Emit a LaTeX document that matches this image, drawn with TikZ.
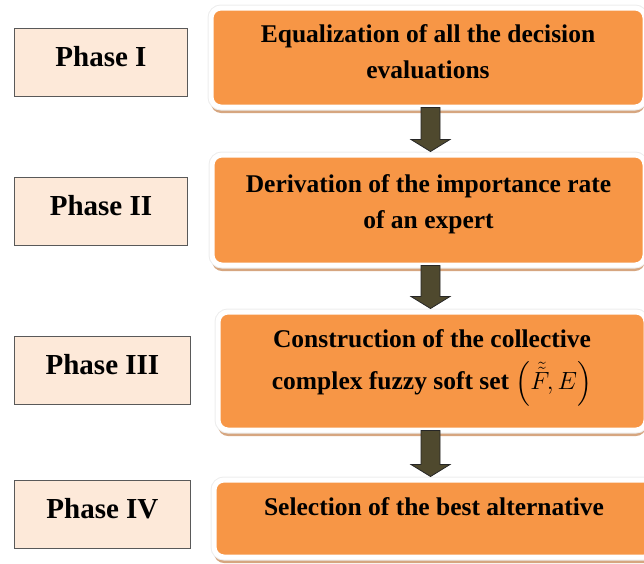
\documentclass[tikz,border=0pt]{standalone}
\usepackage{amsmath}
\usepackage{fontspec}
\setmainfont{Liberation Serif}
\usetikzlibrary{shadows, calc}
\definecolor{stepcolor}{RGB}{247,150,70}
\definecolor{phasecolor}{RGB}{253,233,217}
\definecolor{arrowcolor}{RGB}{79,73,46}
\definecolor{shadowcolor}{RGB}{214,166,128}

\begin{document}
\begin{tikzpicture}[
    x=1pt, y=-1pt,
    phase/.style={rectangle, draw=black!65, line width=0.9pt, fill=phasecolor, minimum width=173pt, minimum height=68pt, text depth=13pt, anchor=north west, font=\fontsize{29}{34}\selectfont\bfseries},
    stepbox/.style={rectangle, rounded corners=10pt, fill=stepcolor, draw=white, line width=5pt, anchor=north west, align=center, font=\fontsize{25.5}{36}\selectfont\bfseries, drop shadow={shadow xshift=0pt, shadow yshift=-6pt, fill=shadowcolor, opacity=1}, preaction={draw=black!7, line width=7pt}},
    flowarrow/.style={fill=arrowcolor, draw=black!85, line width=0.8pt}
]
    \useasboundingbox (0,0) rectangle (644,563);

    % Phases
    \node[phase] (phaseI) at (14,28) {Phase I};
    \node[phase] (phaseII) at (14,177) {Phase II};
    \node[phase, minimum width=176pt] (phaseIII) at (14,336) {Phase III};
    \node[phase, minimum width=176pt] (phaseIV) at (14,480) {Phase IV};

    % Steps
    \node[stepbox, minimum width=434pt, minimum height=99pt, text depth=11pt] (stepI) at (208.5,5.5) {Equalization of all the decision\\evaluations};
    \node[stepbox, minimum width=433pt, minimum height=110pt, text depth=17pt] (stepII) at (209.5,152.5) {Derivation of the importance rate\\of an expert};
    \node[stepbox, minimum width=428pt, minimum height=118pt, text depth=22pt] (stepIII) at (215.5,309.5) {Construction of the collective\\[6pt]complex fuzzy soft set $\left(\tilde{\tilde{F}},E\right)$};
    \node[stepbox, minimum width=440pt, minimum height=77pt, text depth=24pt] (stepIV) at (211.5,477.5) {Selection of the best alternative};

    % Block arrows
    \coordinate (axis) at (430.5,0);
    \foreach \a/\b in {stepI/stepII, stepII/stepIII, stepIII/stepIV}
        \draw[flowarrow] let \p1=(\a.south -| axis), \p2=(\b.north -| axis) in
            (\x1-9.5pt,\y1+2pt) -- (\x1-9.5pt,\y2+13pt) -- (\x1-19.5pt,\y2+13pt) -- (\x1,\y2+1pt)
            -- (\x1+19.5pt,\y2+13pt) -- (\x1+9.5pt,\y2+13pt) -- (\x1+9.5pt,\y1+2pt) -- cycle;

\end{tikzpicture}
\end{document}
